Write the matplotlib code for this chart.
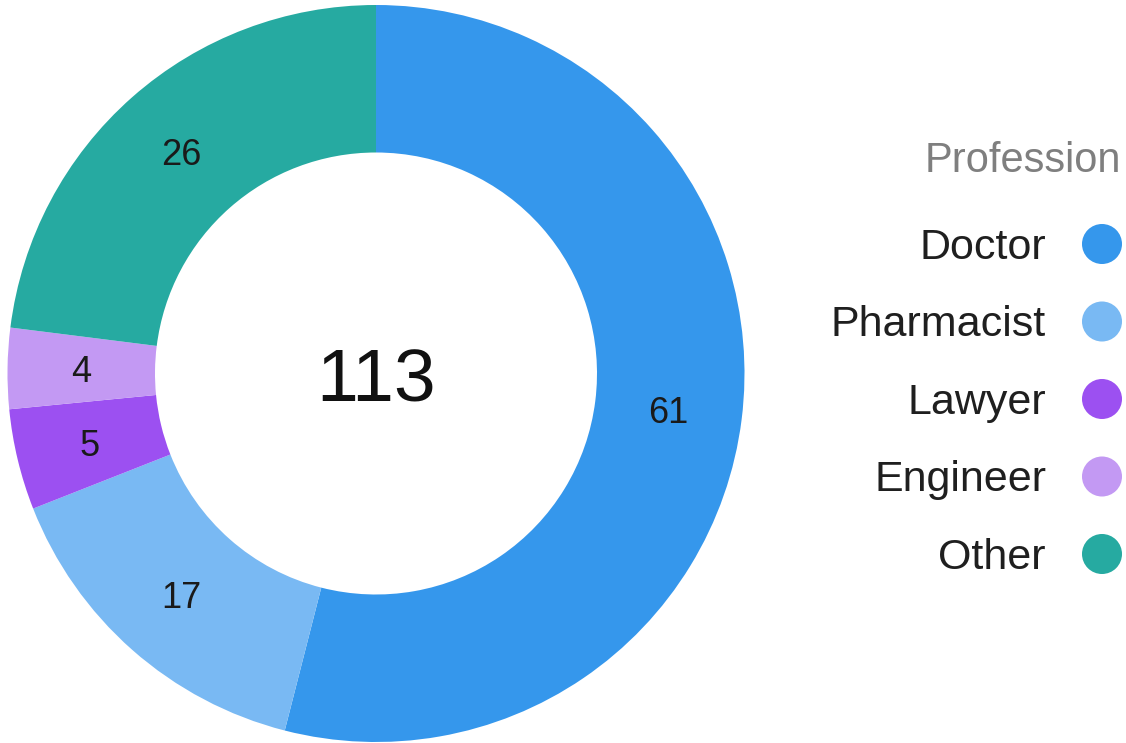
import numpy as np
import matplotlib.pyplot as plt

plt.rcParams['font.family'] = ['Liberation Sans', 'DejaVu Sans']

# Data
professions = ['Doctor', 'Pharmacist', 'Lawyer', 'Engineer', 'Other']
counts = [61, 17, 5, 4, 26]
colors = ['#3597ec', '#79b9f3', '#9c50f1', '#c399f3', '#26aaa1']
legend_title = 'Profession'

W, H = 1126, 743
fig = plt.figure(figsize=(W / 100, H / 100), dpi=100)
ax = fig.add_axes([0, 0, 1, 1])

# Donut geometry in pixel units (y measured upward)
cx, cy = 376, H - 373.5
r_out, r_in = 368.5, 221

wedges, _ = ax.pie(counts, colors=colors, startangle=90, counterclock=False,
                   radius=r_out, center=(cx, cy),
                   wedgeprops=dict(width=r_out - r_in, linewidth=0))

# Value labels at the middle of the ring
total = sum(counts)
r_mid = (r_out + r_in) / 2
start = 90.0
for n in counts:
    sweep = n / total * 360
    ang = np.deg2rad(start - sweep / 2)
    ax.text(cx + r_mid * np.cos(ang), cy + r_mid * np.sin(ang) - 13, str(n),
            ha='center', va='baseline', fontsize=26, color='#1a1a1a')
    start -= sweep

# Total in the middle
ax.text(cx, cy - 28, str(total), ha='center', va='baseline', fontsize=54, color='#111111')

# Legend on the right
ax.text(1121, H - 172, legend_title, ha='right', va='baseline', fontsize=30, color='#7f7f7f')
row_y = H - 244 - 77.5 * np.arange(len(professions))
for i, (name, c) in enumerate(zip(professions, colors)):
    ax.text(1046, row_y[i] - 15, name, ha='right', va='baseline', fontsize=31, color='#1f1f1f')
ax.scatter(np.full(len(professions), 1102), row_y, s=830, c=colors, linewidths=0)

ax.set_xlim(0, W)
ax.set_ylim(0, H)
ax.set_aspect('equal')
ax.axis('off')

fig.savefig('out.png', dpi=100)
